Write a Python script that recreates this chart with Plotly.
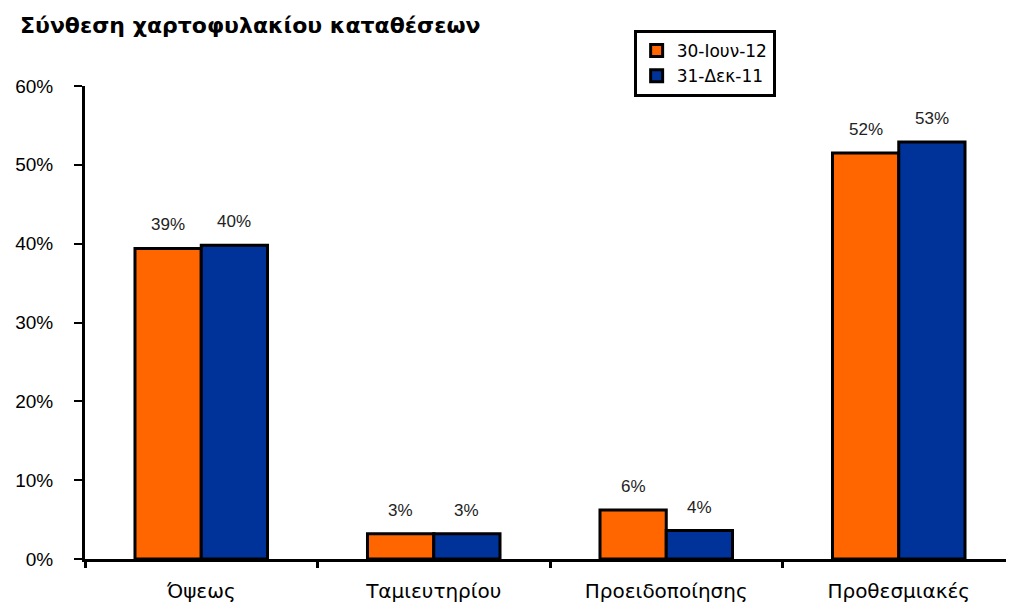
import plotly.graph_objects as go

categories = ["Όψεως", "Ταμιευτηρίου", "Προειδοποίησης", "Προθεσμιακές"]
series_names = ["30-Ιουν-12", "31-Δεκ-11"]
jun12 = [0.394, 0.032, 0.062, 0.515]
dec11 = [0.398, 0.032, 0.036, 0.529]
jun12_labels = ["39%", "3%", "6%", "52%"]
dec11_labels = ["40%", "3%", "4%", "53%"]
y_ticks = [0, 0.1, 0.2, 0.3, 0.4, 0.5, 0.6]
y_tick_labels = ["0%", "10%", "20%", "30%", "40%", "50%", "60%"]

colors = ["#FF6600", "#003399"]

fig = go.Figure()
for i, (name, vals, col) in enumerate([
    (series_names[0], jun12, colors[0]),
    (series_names[1], dec11, colors[1]),
]):
    fig.add_trace(go.Bar(
        x=categories, y=vals, name=name,
        marker=dict(color=col, line=dict(color="black", width=3)),
    ))

# data labels above bars
for labels, vals, shift in [(jun12_labels, jun12, -33), (dec11_labels, dec11, 33)]:
    for c, v, t in zip(categories, vals, labels):
        fig.add_annotation(
            x=c, y=v, text=t, xshift=shift, yshift=12,
            yanchor="bottom", showarrow=False,
            font=dict(family="Liberation Sans, Arial", size=17, color="#222"),
        )

# page body has an 8px offset; margins account for it
fig.update_layout(
    width=1014, height=602,
    paper_bgcolor="white", plot_bgcolor="white",
    margin=dict(l=73, r=7, t=78, b=51),
    barmode="group", bargap=0.43, bargroupgap=0,
    title=dict(
        text="<b>Σύνθεση χαρτοφυλακίου καταθέσεων</b>",
        xref="container", yref="container", x=12 / 1014, y=1 - 17 / 602,
        xanchor="left", yanchor="middle",
        font=dict(family="DejaVu Sans", size=22, color="black"),
    ),
    legend=dict(
        x=(624 - 73) / 934, y=(551 - 22) / 473, xanchor="left", yanchor="top",
        bordercolor="black", borderwidth=3, bgcolor="white",
        font=dict(family="DejaVu Sans", size=17, color="black"),
        entrywidth=145,
    ),
    showlegend=True,
)

fig.update_yaxes(
    range=[0, 0.6], tickvals=y_ticks, ticktext=y_tick_labels,
    showgrid=False, zeroline=False,
    showline=True, linecolor="black", linewidth=3,
    ticks="outside", ticklen=8, tickwidth=2, tickcolor="black",
    ticklabelstandoff=17,
    tickfont=dict(family="Liberation Sans, Arial", size=19, color="black"),
)
fig.update_xaxes(
    showgrid=False, showline=True, linecolor="black", linewidth=3,
    ticks="outside", tickson="boundaries", ticklen=6, tickwidth=3, tickcolor="black",
    ticklabelstandoff=12,
    tickfont=dict(family="DejaVu Sans", size=20, color="black"),
    range=[-0.5, 3.5],
)

fig.write_html("out.html")
